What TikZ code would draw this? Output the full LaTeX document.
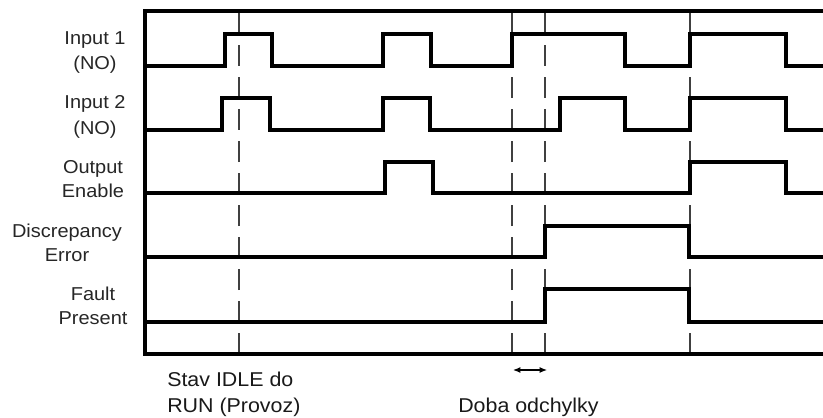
\documentclass[tikz,border=0pt]{standalone}
\usepackage{fontspec}
\setmainfont[FakeStretch=1.07]{Liberation Sans}
\usetikzlibrary{arrows.meta}
\begin{document}
\begin{tikzpicture}[x=0.75pt,y=-0.75pt,
  sig/.style={line width=2.3pt, line join=miter, black},
  frame/.style={line width=2.4pt, line join=miter, black},
  guide/.style={line width=0.9pt, dash pattern=on 15.75pt off 8.25pt, black!75},
  lab/.style={font=\fontsize{14}{18}\selectfont, align=center, anchor=base, text=black!85, inner sep=0pt},
  labwide/.style={lab, font=\fontsize{14}{18.75}\selectfont},
  btext/.style={font=\fontsize{15}{19.5}\selectfont, align=left, anchor=base west, text=black!90, inner sep=0pt},
  dim/.style={{Latex[length=5.5pt,width=4.5pt]}-{Latex[length=5.5pt,width=4.5pt]}, line width=0.9pt, black}]
\useasboundingbox (0,0) rectangle (823,417);

% guide lines (dashed), drawn from the bottom upwards
\foreach \gx/\gn in {239/a, 512/b, 545/c, 690/d}{
  \coordinate (g\gn b) at (\gx,354);
  \coordinate (g\gn t) at (\gx,11);
  \draw[guide] (g\gn b) -- (g\gn t);
}

% frame
\draw[frame] (823,11) -- (145,11) -- (145,354) -- (823,354);

% Input 1
\draw[sig] (145,66) -- (225,66) -- (225,34) -- (272,34) -- (272,66) -- (383,66) -- (383,34)
  -- (431,34) -- (431,66) -- (512,66) -- (512,34) -- (625,34) -- (625,66) -- (690,66)
  -- (690,34) -- (786,34) -- (786,66) -- (823,66);
% Input 2
\draw[sig] (145,130) -- (222,130) -- (222,98) -- (270,98) -- (270,130) -- (383,130) -- (383,98)
  -- (430,98) -- (430,130) -- (560,130) -- (560,98) -- (625,98) -- (625,130) -- (690,130)
  -- (690,98) -- (786,98) -- (786,130) -- (823,130);
% Output Enable
\draw[sig] (145,193) -- (385,193) -- (385,162) -- (433,162) -- (433,193) -- (690,193)
  -- (690,162) -- (786,162) -- (786,193) -- (823,193);
% Discrepancy Error
\draw[sig] (145,257) -- (545,257) -- (545,226) -- (689,226) -- (689,257) -- (823,257);
% Fault Present
\draw[sig] (145,322) -- (545,322) -- (545,289) -- (689,289) -- (689,322) -- (823,322);

% labels (anchor = baseline of the last line)
\node[labwide] (in1) at (95,70) {Input 1\\(NO)};
\node[labwide] (in2) at (95,134) {Input 2\\(NO)};
\node[lab] (oen) at (93,197) {Output\\Enable};
\node[lab] (dis) at (67,261) {Discrepancy\\Error};
\node[lab] (flt) at (93,324) {Fault\\Present};

% bottom annotations
\coordinate (dl) at (513,370);
\coordinate (dr) at (547,370);
\draw[dim] (dl) -- (dr);
\node[btext] (idle) at (167,412) {Stav IDLE do\\RUN (Provoz)};
\node[btext] (doba) at (458,412) {Doba odchylky};
\end{tikzpicture}
\end{document}
